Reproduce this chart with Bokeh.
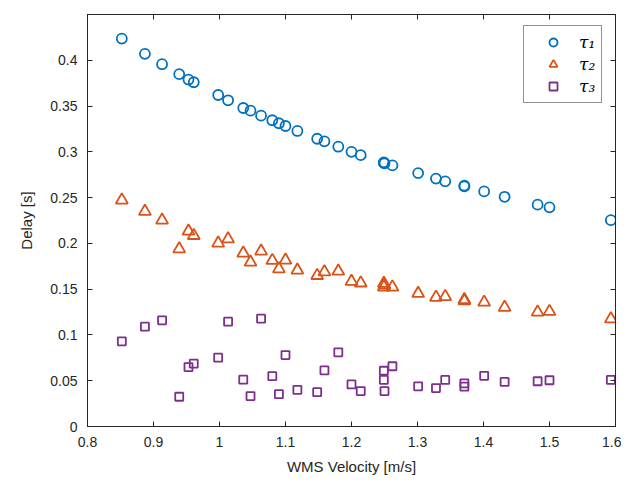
from bokeh.plotting import figure
from bokeh.models import (LinearAxis, FixedTicker, CustomJSTickFormatter, Legend,
                          LegendItem, ColumnDataSource, Range1d)
from bokeh.embed import file_html
from bokeh.resources import INLINE

# WMS velocity [m/s]
velocity = [0.852, 0.887, 0.913, 0.939, 0.953, 0.961, 0.998, 1.013, 1.036, 1.047,
            1.063, 1.080, 1.090, 1.100, 1.118, 1.148, 1.159, 1.180, 1.200, 1.214,
            1.249, 1.249, 1.250, 1.262, 1.301, 1.328, 1.342, 1.371, 1.371, 1.401,
            1.432, 1.482, 1.500, 1.593]
# Delays [s]
tau1 = [0.4237, 0.407, 0.3957, 0.3848, 0.3789, 0.376, 0.3621, 0.3563, 0.3479, 0.345,
        0.3395, 0.3345, 0.3312, 0.3282, 0.3228, 0.3143, 0.3115, 0.3056, 0.300, 0.2964,
        0.2879, 0.2885, 0.2875, 0.2852, 0.2768, 0.2708, 0.2678, 0.2624, 0.2630, 0.2568,
        0.2509, 0.2423, 0.2394, 0.2254]
tau2 = [0.2473, 0.2349, 0.2254, 0.194, 0.2133, 0.2086, 0.2002, 0.2049, 0.1893, 0.1794,
        0.1915, 0.1813, 0.1721, 0.1816, 0.1707, 0.1649, 0.1688, 0.1696, 0.1585, 0.1567,
        0.1563, 0.1523, 0.1545, 0.1523, 0.1453, 0.1411, 0.1419, 0.1371, 0.1385, 0.1357,
        0.1301, 0.1249, 0.1256, 0.1175]
tau3 = [0.093, 0.109, 0.116, 0.0325, 0.0649, 0.0686, 0.0752, 0.1145, 0.0511, 0.0332,
        0.1178, 0.055, 0.0353, 0.078, 0.0401, 0.0375, 0.0613, 0.081, 0.0460, 0.0387,
        0.0609, 0.0509, 0.0387, 0.0658, 0.0439, 0.042, 0.0509, 0.0472, 0.0435, 0.0554,
        0.0487, 0.0494, 0.0505, 0.0509]

x_ticks = [0.8, 0.9, 1.0, 1.1, 1.2, 1.3, 1.4, 1.5, 1.6]
y_ticks = [0, 0.05, 0.1, 0.15, 0.2, 0.25, 0.3, 0.35, 0.4]
series_labels = ["τ₁", "τ₂", "τ₃"]

C1, C2, C3 = "#0072BD", "#D95319", "#7E2F8E"
AX = "#262626"
FONT = "Liberation Sans"

src = ColumnDataSource(dict(v=velocity, t1=tau1, t2=tau2, t3=tau3))

p = figure(output_backend="svg", toolbar_location=None,
           frame_width=528, frame_height=412,
           min_border_left=87, min_border_right=6, min_border_top=14, min_border_bottom=56,
           x_range=Range1d(0.8, 1.6), y_range=Range1d(0, 0.45),
           x_axis_location=None, y_axis_location=None)
p.xgrid.visible = False
p.ygrid.visible = False
p.outline_line_color = AX
p.outline_line_width = 1
p.background_fill_color = "white"
p.border_fill_color = "white"

fmt = CustomJSTickFormatter(code="""
    var s = tick.toFixed(2);
    s = s.replace(/0+$/, '').replace(/\\.$/, '');
    return s;
""")
blank = CustomJSTickFormatter(code="return '';")

def style_axis(ax, ticks, labels=True):
    ax.ticker = FixedTicker(ticks=ticks)
    ax.formatter = fmt if labels else blank
    ax.major_tick_in = 5
    ax.major_tick_out = 0
    ax.minor_tick_in = 0
    ax.minor_tick_out = 0
    ax.axis_line_color = AX
    ax.major_tick_line_color = AX
    ax.major_label_text_color = AX
    ax.major_label_text_font = FONT
    ax.major_label_text_font_size = "14px"
    ax.major_label_standoff = 10 if labels else 0
    ax.axis_label_text_font = FONT
    ax.axis_label_text_font_size = "15px"
    ax.axis_label_text_font_style = "normal"
    ax.axis_label_text_color = AX

xb = LinearAxis(axis_label="WMS Velocity [m/s]")
style_axis(xb, x_ticks)
xb.axis_label_standoff = 8
yl = LinearAxis(axis_label="Delay [s]")
style_axis(yl, y_ticks)
yl.axis_label_standoff = 12
xt = LinearAxis()
style_axis(xt, x_ticks, labels=False)
yr = LinearAxis()
style_axis(yr, y_ticks, labels=False)
p.add_layout(xb, "below")
p.add_layout(yl, "left")
p.add_layout(xt, "above")
p.add_layout(yr, "right")

r1 = p.scatter("v", "t1", source=src, marker="circle", size=10,
               fill_color=None, line_color=C1, line_width=1.8)
r2 = p.scatter("v", "t2", source=src, marker="triangle", size=12,
               fill_color=None, line_color=C2, line_width=1.8)
r3 = p.scatter("v", "t3", source=src, marker="square", size=8,
               fill_color=None, line_color=C3, line_width=1.8)

legend = Legend(items=[LegendItem(label=series_labels[0], renderers=[r1]),
                       LegendItem(label=series_labels[1], renderers=[r2]),
                       LegendItem(label=series_labels[2], renderers=[r3])],
                location=(436, 323))
legend.glyph_width = 46
legend.glyph_height = 20
legend.label_height = 20
legend.label_width = 16
legend.spacing = 2
legend.padding = 6
legend.margin = 0
legend.label_standoff = 3
legend.label_text_font = "DejaVu Serif"
legend.label_text_font_style = "italic"
legend.label_text_font_size = "17px"
legend.label_text_color = "black"
legend.border_line_color = AX
legend.border_line_width = 1
legend.background_fill_color = "white"
legend.background_fill_alpha = 1
p.add_layout(legend, "center")

open("out.html", "w").write(file_html(p, INLINE))
